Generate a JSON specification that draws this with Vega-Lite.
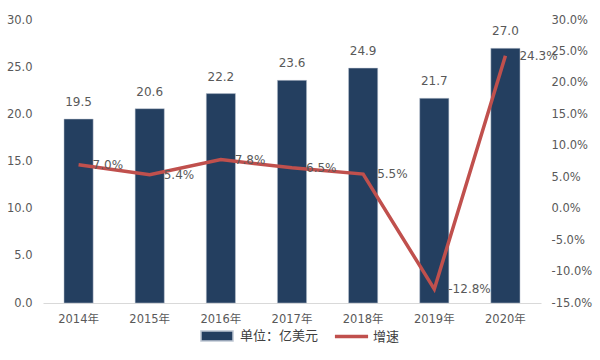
{
  "$schema": "https://vega.github.io/schema/vega-lite/v6.json",
  "autosize": "none",
  "width": 498,
  "height": 283,
  "padding": {"top": 20, "left": 43, "right": 59, "bottom": 57},
  "background": "#FFFFFF",
  "config": {
    "view": {"stroke": null},
    "font": "DejaVu Sans",
    "locale": {"number": {"decimal": ".", "thousands": ",", "grouping": [3], "currency": ["$", ""], "minus": "-"}},
    "axis": {"labelFont": "DejaVu Sans, Noto Sans CJK SC", "labelFontSize": 11.5, "labelColor": "#595959", "grid": false, "ticks": false, "title": null, "labelOverlap": false}
  },
  "data": {
    "values": [
      {"year": "2014年", "value": 19.5, "growth": 0.070},
      {"year": "2015年", "value": 20.6, "growth": 0.054},
      {"year": "2016年", "value": 22.2, "growth": 0.078},
      {"year": "2017年", "value": 23.6, "growth": 0.065},
      {"year": "2018年", "value": 24.9, "growth": 0.055},
      {"year": "2019年", "value": 21.7, "growth": -0.128},
      {"year": "2020年", "value": 27.0, "growth": 0.243}
    ]
  },
  "encoding": {
    "x": {
      "field": "year", "type": "nominal", "sort": null,
      "scale": {"paddingInner": 0.59, "paddingOuter": 0.295},
      "axis": {"labelAngle": 0, "labelPadding": 10, "domain": true, "domainColor": "#D9D9D9", "domainWidth": 1}
    }
  },
  "layer": [
    {
      "encoding": {
        "y": {"field": "value", "type": "quantitative", "scale": {"domain": [0, 30]},
          "axis": {"values": [0, 5, 10, 15, 20, 25, 30], "format": ".1f", "domain": false, "labelPadding": 11, "labelOverlap": false}}
      },
      "layer": [
        {
          "mark": {"type": "bar", "stroke": "#BFC7D3", "strokeWidth": 0.5},
          "encoding": {
            "fill": {"datum": "单位：亿美元", "scale": {"range": ["#243F60"]},
              "legend": {"orient": "none", "legendX": 163, "legendY": 305, "symbolType": "M-1.6,-0.5H1.6V0.5H-1.6Z", "symbolSize": 400, "labelOffset": 12, "labelFont": "Noto Sans CJK SC", "labelFontSize": 13, "labelColor": "#404040", "title": null}}
          }
        },
        {
          "mark": {"type": "text", "baseline": "alphabetic", "dy": -13, "fontSize": 12, "color": "#595959"},
          "encoding": {
            "text": {"field": "value", "type": "quantitative", "format": ".1f"}
          }
        }
      ]
    },
    {
      "encoding": {
        "y": {"field": "growth", "type": "quantitative", "scale": {"domain": [-0.15, 0.30]},
          "axis": {"orient": "right", "tickCount": 10, "values": [-0.15, -0.1, -0.05, 0, 0.05, 0.1, 0.15, 0.2, 0.25, 0.3], "format": ".1%", "domain": false, "labelPadding": 10, "labelOverlap": false, "labelFlush": false}}
      },
      "layer": [
        {
          "mark": {"type": "line", "strokeWidth": 3.5},
          "encoding": {
            "stroke": {"datum": "增速", "scale": {"range": ["#C0504D"]},
              "legend": {"orient": "none", "legendX": 290, "legendY": 298, "symbolType": "stroke", "symbolStrokeWidth": 3.5, "symbolSize": 1100, "labelOffset": 3, "labelFont": "Noto Sans CJK SC", "labelFontSize": 13, "labelColor": "#404040", "title": null}}
          }
        },
        {
          "mark": {"type": "text", "align": "left", "baseline": "middle", "dx": 14, "fontSize": 12, "color": "#595959"},
          "encoding": {
            "text": {"field": "growth", "type": "quantitative", "format": ".1%"}
          }
        }
      ]
    }
  ],
  "resolve": {"scale": {"y": "independent"}}
}
